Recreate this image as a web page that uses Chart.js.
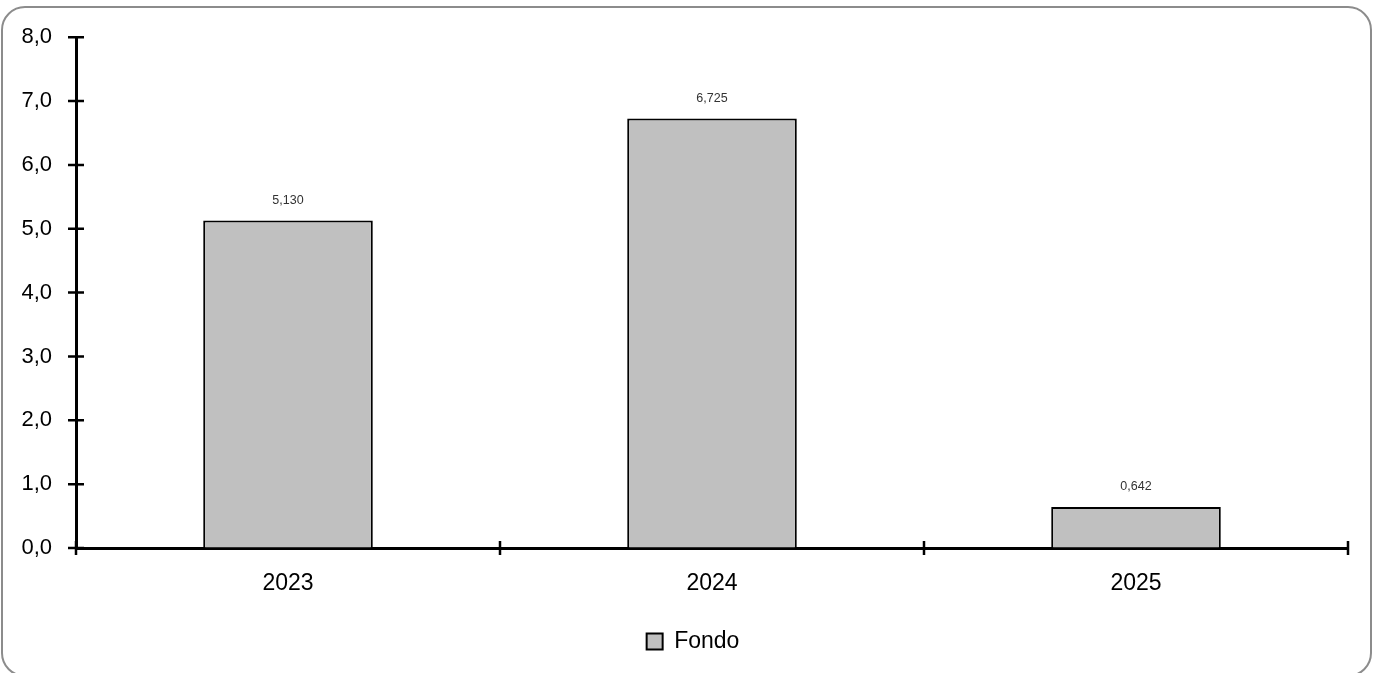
<!DOCTYPE html>
<html>
<head>
<meta charset="utf-8">
<script src="https://cdn.jsdelivr.net/npm/chart.js@4"></script>
<style>
  html, body { margin: 0; padding: 0; background: #fff; overflow: hidden; }
  #wrap { position: absolute; left: 0; top: 0; width: 1373px; height: 673px; }
  #frame {
    position: absolute; left: 1px; top: 6px; width: 1367px; height: 667px;
    border: 2px solid #8c8c8c; border-radius: 24px; pointer-events: none;
  }
</style>
</head>
<body>
<div id="wrap">
  <canvas id="chart" width="1373" height="673"></canvas>
  <div id="frame"></div>
</div>
<script>
const categories = ['2023', '2024', '2025'];
const seriesName = 'Fondo';
const fondoValues = [5.130, 6.725, 0.642];
const yTicks = [0, 1, 2, 3, 4, 5, 6, 7, 8];

const FONT = "'Liberation Sans', Arial, sans-serif";

// crossing tick marks like the spreadsheet original
const crossTicks = {
  id: 'crossTicks',
  afterDraw(chart) {
    const ctx = chart.ctx;
    const x = chart.scales.x;
    const y = chart.scales.y;
    const area = chart.chartArea;
    ctx.save();
    ctx.strokeStyle = '#000';
    ctx.lineWidth = 2.5;
    ctx.beginPath();
    yTicks.forEach(v => {
      const py = y.getPixelForValue(v);
      ctx.moveTo(area.left - 8, py);
      ctx.lineTo(area.left + 8, py);
    });
    // y axis runs a little below zero
    ctx.moveTo(area.left, area.bottom);
    ctx.lineTo(area.left, area.bottom + 7);
    const step = x.getPixelForValue(1) - x.getPixelForValue(0);
    for (let i = 0; i <= categories.length; i++) {
      const px = x.getPixelForValue(0) - step / 2 + i * step;
      ctx.moveTo(px, area.bottom - 7);
      ctx.lineTo(px, area.bottom + 7);
    }
    ctx.stroke();
    ctx.restore();
  }
};

const valueLabels = {
  id: 'valueLabels',
  afterDatasetsDraw(chart) {
    const ctx = chart.ctx;
    const meta = chart.getDatasetMeta(0);
    ctx.save();
    ctx.font = '12.5px ' + FONT;
    ctx.fillStyle = '#333';
    ctx.textAlign = 'center';
    ctx.textBaseline = 'middle';
    meta.data.forEach((bar, i) => {
      ctx.fillText(fondoValues[i].toFixed(3).replace('.', ','), bar.x, bar.y - 20);
    });
    ctx.restore();
  }
};

new Chart(document.getElementById('chart'), {
  type: 'bar',
  data: {
    labels: categories,
    datasets: [{
      label: seriesName,
      data: fondoValues,
      backgroundColor: '#c0c0c0',
      borderColor: '#000',
      borderWidth: 2,
      barPercentage: 0.4,
      categoryPercentage: 1.0
    }]
  },
  options: {
    responsive: false,
    animation: false,
    devicePixelRatio: 1,
    layout: { padding: { top: 36, right: 0, left: 13, bottom: 10 } },
    plugins: {
      legend: {
        position: 'bottom',
        labels: {
          boxWidth: 16,
          boxHeight: 16,
          padding: 8,
          color: '#000',
          font: { family: FONT, size: 23 }
        }
      },
      tooltip: { enabled: false }
    },
    scales: {
      x: {
        grid: { display: true, drawOnChartArea: false, drawTicks: false, offset: true },
        border: { color: '#000', width: 3 },
        ticks: { color: '#000', padding: 22, font: { family: FONT, size: 23 } },
        afterFit(scale) { scale.height = 74; }
      },
      y: {
        min: 0,
        max: 8,
        grid: { display: true, drawOnChartArea: false, drawTicks: false },
        border: { color: '#000', width: 3 },
        ticks: {
          stepSize: 1,
          color: '#000',
          padding: 24,
          font: { family: FONT, size: 22 },
          callback: v => v.toFixed(1).replace('.', ',')
        },
        afterFit(scale) { scale.width = 63; }
      },
      // empty right-hand spacer so the plot ends where the original does
      yRight: {
        position: 'right',
        min: 0,
        max: 8,
        grid: { display: false },
        border: { display: false },
        ticks: { display: false },
        afterFit(scale) { scale.width = 25; }
      }
    }
  },
  plugins: [crossTicks, valueLabels]
});
</script>
</body>
</html>
